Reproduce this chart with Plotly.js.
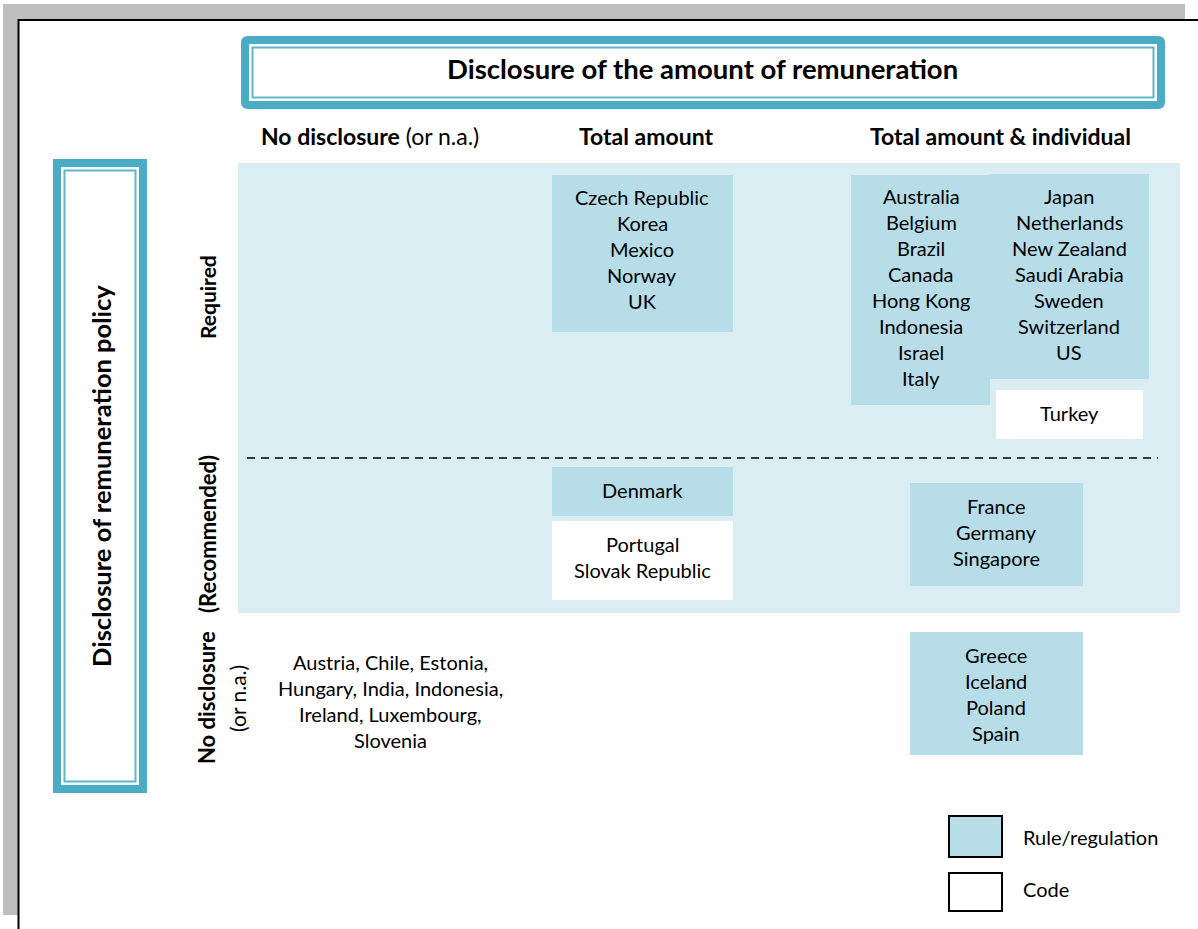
<!DOCTYPE html>
<html><head><meta charset="utf-8">
<script src="https://cdn.plot.ly/plotly-3.0.1.min.js"></script>
<style>html,body{margin:0;padding:0;background:#fff}#chart{width:1198px;height:929px}</style>
</head><body><div id="chart"></div>
<script>
// ---------- data ----------
const mainTitle = "Disclosure of the amount of remuneration";
const sideTitle = "Disclosure of remuneration policy";
const colHeadersBold = ["No disclosure", "Total amount", "Total amount & individual"];
const colHeadersExtra = [" (or n.a.)", "", ""];
const rowLabels = ["Required", "(Recommended)", "No disclosure"];
const rowLabelExtra = "(or n.a.)";
const requiredTotal = ["Czech Republic", "Korea", "Mexico", "Norway", "UK"];
const requiredIndivA = ["Australia", "Belgium", "Brazil", "Canada", "Hong Kong", "Indonesia", "Israel", "Italy"];
const requiredIndivB = ["Japan", "Netherlands", "New Zealand", "Saudi Arabia", "Sweden", "Switzerland", "US"];
const requiredIndivCode = ["Turkey"];
const recommendedTotalRule = ["Denmark"];
const recommendedTotalCode = ["Portugal", "Slovak Republic"];
const recommendedIndivRule = ["France", "Germany", "Singapore"];
const noPolicyNone = ["Austria, Chile, Estonia,", "Hungary, India, Indonesia,", "Ireland, Luxembourg,", "Slovenia"];
const noPolicyIndivRule = ["Greece", "Iceland", "Poland", "Spain"];
const legendLabels = ["Rule/regulation", "Code"];

// ---------- styles ----------
const TEAL = "#4BACC6", TEAL_THIN = "#5DB6CE", BOX = "#B7DDE8", LIGHT = "#DAEDF3", GRAY = "#BFBFBF";
const FONT = "Lato, 'Open Sans', sans-serif";
const LINE = 26;
const BODY = 20;

const shapes = [];
const annotations = [];
function rect(x0, y0, x1, y1, fill, line, lw) {
  shapes.push({type: "rect", xref: "x", yref: "y", x0, y0, x1, y1,
    fillcolor: fill || "rgba(0,0,0,0)", line: {color: line || "rgba(0,0,0,0)", width: lw || 0}, layer: "below"});
}
function roundRect(x0, y0, x1, y1, r, fill) {
  const p = `M${x0 + r},${y0} L${x1 - r},${y0} Q${x1},${y0} ${x1},${y0 + r} L${x1},${y1 - r} Q${x1},${y1} ${x1 - r},${y1} L${x0 + r},${y1} Q${x0},${y1} ${x0},${y1 - r} L${x0},${y0 + r} Q${x0},${y0} ${x0 + r},${y0} Z`;
  shapes.push({type: "path", xref: "x", yref: "y", path: p, fillcolor: fill, line: {width: 0}, layer: "below"});
}
function text(x, y, t, opts) {
  opts = opts || {};
  annotations.push({xref: "x", yref: "y", x, y, text: t, showarrow: false,
    xanchor: opts.xanchor || "center", yanchor: "middle", textangle: opts.angle || 0,
    font: {family: FONT, size: opts.size || BODY, color: "#000"}});
}
function list(items, cx, y0) {
  items.forEach((s, i) => text(cx, y0 - 1 + i * LINE, s));
}

// frame
rect(3, 4, 18, 915, GRAY);
rect(3, 4, 1185, 20, GRAY);
shapes.push({type: "line", xref: "x", yref: "y", x0: 18.5, x1: 18.5, y0: 19, y1: 929, line: {color: "#000", width: 2}});
shapes.push({type: "line", xref: "x", yref: "y", x0: 18, x1: 1198, y0: 20, y1: 20, line: {color: "#000", width: 2}});

// title box
roundRect(241, 36, 1165, 109, 7, TEAL);
rect(249, 44, 1157, 101, "#fff");
rect(252.5, 47.5, 1153.5, 97.5, "#fff", TEAL_THIN, 2);
text(702, 68.5, "<b>" + mainTitle + "</b>", {size: 27.5});

// side box
rect(53, 159, 147, 793, TEAL);
rect(61, 167, 139, 785, "#fff");
rect(64.5, 170.5, 135.5, 781.5, "#fff", TEAL_THIN, 2);
text(101, 476, "<b>" + sideTitle + "</b>", {angle: -90, size: 25.5});

// column headers
const hx = [370, 646, 1000];
colHeadersBold.forEach((h, i) => text(hx[i], 136, "<b>" + h + "</b>" + colHeadersExtra[i], {size: 23}));

// background region
rect(238, 163, 1180, 613, LIGHT);
// dashed separator
shapes.push({type: "line", xref: "x", yref: "y", x0: 247, x1: 1158, y0: 458, y1: 458, line: {color: "#000", width: 1.6, dash: "8px,6px"}});

// row labels
text(207, 297, "<b>" + rowLabels[0] + "</b>", {angle: -90, size: 21});
text(207, 534, "<b>" + rowLabels[1] + "</b>", {angle: -90, size: 22});
text(206, 698, "<b>" + rowLabels[2] + "</b>", {angle: -90, size: 22});
text(237, 699, rowLabelExtra, {angle: -90, size: 21});

// boxes
rect(552, 175, 733, 332, BOX);
rect(851, 175, 990, 405, BOX);
rect(990, 174, 1149, 379, BOX);
rect(996, 390, 1143, 439, "#fff");
rect(552, 467, 733, 516, BOX);
rect(552, 521, 733, 600, "#fff");
rect(910, 483, 1083, 586, BOX);
rect(910, 632, 1083, 755, BOX);

list(requiredTotal, 642, 198);
list(requiredIndivA, 921, 197);
list(requiredIndivB, 1069, 197);
list(requiredIndivCode, 1069, 414);
list(recommendedTotalRule, 642, 491);
list(recommendedTotalCode, 642, 545);
list(recommendedIndivRule, 996, 507);
list(noPolicyNone, 390, 663);
list(noPolicyIndivRule, 996, 656);

// legend
rect(949, 816, 1002, 857, BOX, "#000", 2);
rect(949, 873, 1002, 911, "#fff", "#000", 2);
text(1021, 837, legendLabels[0], {xanchor: "left"});
text(1021, 889, legendLabels[1], {xanchor: "left"});

const layout = {
  width: 1198, height: 929, margin: {l: 0, r: 0, t: 0, b: 0},
  paper_bgcolor: "#fff", plot_bgcolor: "#fff", showlegend: false,
  xaxis: {range: [0, 1198], visible: false, fixedrange: true},
  yaxis: {range: [929, 0], visible: false, fixedrange: true},
  shapes, annotations
};
Plotly.newPlot("chart", [{x: [], y: [], type: "scatter", mode: "markers", hoverinfo: "skip"}], layout, {staticPlot: true, displayModeBar: false});
</script></body></html>
